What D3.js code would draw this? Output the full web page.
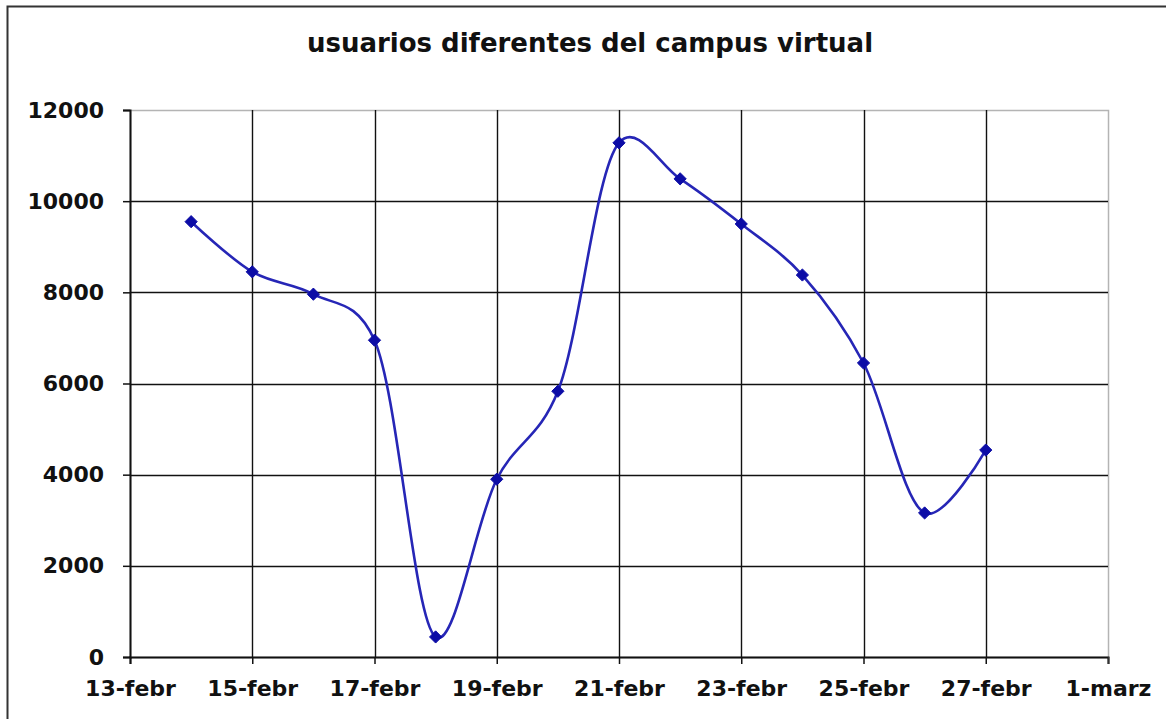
<!DOCTYPE html>
<html>
<head>
<meta charset="utf-8">
<script src="https://cdn.jsdelivr.net/npm/d3@7"></script>
<style>
  html, body { margin: 0; padding: 0; background: #fff; }
  svg { display: block; }
  text { font-family: "DejaVu Sans", Verdana, sans-serif; font-weight: bold; fill: #111; }
</style>
</head>
<body>
<div id="chart"></div>
<script>
// data
const days = ['2007-02-14', '2007-02-15', '2007-02-16', '2007-02-17', '2007-02-18', '2007-02-19', '2007-02-20',
  '2007-02-21', '2007-02-22', '2007-02-23', '2007-02-24', '2007-02-25', '2007-02-26', '2007-02-27'];
const users = [9550, 8450, 7960, 6950, 440, 3900, 5830, 11280, 10490, 9500, 8380, 6450, 3160, 4540];

const xTickDays = ['2007-02-13', '2007-02-15', '2007-02-17', '2007-02-19', '2007-02-21', '2007-02-23',
  '2007-02-25', '2007-02-27', '2007-03-01'];
const xTickLabels = ['13-febr', '15-febr', '17-febr', '19-febr', '21-febr', '23-febr', '25-febr', '27-febr', '1-marz'];
const yTicks = [0, 2000, 4000, 6000, 8000, 10000, 12000];
const title = 'usuarios diferentes del campus virtual';

const W = 1166, H = 719;
const margin = { top: 110, right: 58, bottom: 62, left: 130 };
const width = W - margin.left - margin.right;
const height = H - margin.top - margin.bottom;

const parse = d3.utcParse('%Y-%m-%d');
const data = days.map((d, i) => ({ date: parse(d), value: users[i] }));
const tickDates = xTickDays.map(parse);

const svg = d3.select('#chart').append('svg')
  .attr('width', W)
  .attr('height', H);

// outer chart frame
svg.append('rect')
  .attr('x', 7.5).attr('y', 6.5)
  .attr('width', W + 20).attr('height', H + 20)
  .attr('fill', 'none')
  .attr('stroke', '#333')
  .attr('stroke-width', 2);

svg.append('text')
  .attr('x', 590).attr('y', 52)
  .attr('text-anchor', 'middle')
  .attr('font-size', 26)
  .text(title);

const g = svg.append('g').attr('transform', 'translate(' + margin.left + ',' + margin.top + ')');

const x = d3.scaleUtc().domain([tickDates[0], tickDates[tickDates.length - 1]]).range([0, width]);
const y = d3.scaleLinear().domain([0, 12000]).range([height, 0]);

// plot area border (gray)
g.append('rect')
  .attr('x', 0.5).attr('y', 0.5)
  .attr('width', width).attr('height', height)
  .attr('fill', 'none')
  .attr('stroke', '#b4b4b4')
  .attr('stroke-width', 1.5);

// grid
g.append('g')
  .selectAll('line')
  .data(yTicks.filter(v => v > 0 && v < 12000))
  .join('line')
  .attr('x1', 0).attr('x2', width)
  .attr('y1', d => Math.round(y(d)) + 0.5).attr('y2', d => Math.round(y(d)) + 0.5)
  .attr('stroke', '#111').attr('stroke-width', 1.4);

g.append('g')
  .selectAll('line')
  .data(tickDates.slice(1, -1))
  .join('line')
  .attr('x1', d => Math.round(x(d)) + 0.5).attr('x2', d => Math.round(x(d)) + 0.5)
  .attr('y1', 0).attr('y2', height)
  .attr('stroke', '#111').attr('stroke-width', 1.4);

// axes
const yAxis = g.append('g')
  .call(d3.axisLeft(y).tickValues(yTicks).tickSize(7).tickPadding(19).tickFormat(d3.format('d')));
const xAxis = g.append('g')
  .attr('transform', 'translate(0,' + height + ')')
  .call(d3.axisBottom(x).tickValues(tickDates).tickSize(7).tickPadding(16)
    .tickFormat((d, i) => xTickLabels[i]));

[yAxis, xAxis].forEach(a => {
  a.select('.domain').attr('stroke', '#111').attr('stroke-width', 2);
  a.selectAll('.tick line').attr('stroke', '#111').attr('stroke-width', 1.5);
  a.selectAll('text').attr('font-size', 22).attr('font-family', null).attr('fill', '#111');
});
xAxis.select('.tick:last-of-type line').attr('stroke', '#333');

// smoothed series
const line = d3.line()
  .x(d => x(d.date))
  .y(d => y(d.value))
  .curve(d3.curveCatmullRom.alpha(0.2));

g.append('path')
  .datum(data)
  .attr('d', line)
  .attr('fill', 'none')
  .attr('stroke', '#2626b6')
  .attr('stroke-width', 2.6);

g.append('g')
  .selectAll('path')
  .data(data)
  .join('path')
  .attr('transform', d => 'translate(' + x(d.date) + ',' + y(d.value) + ')')
  .attr('d', d3.symbol(d3.symbolDiamond2, 95))
  .attr('fill', '#0c0ca6')
  .attr('stroke', '#0c0ca6')
  .attr('stroke-width', 1);
</script>
</body>
</html>
